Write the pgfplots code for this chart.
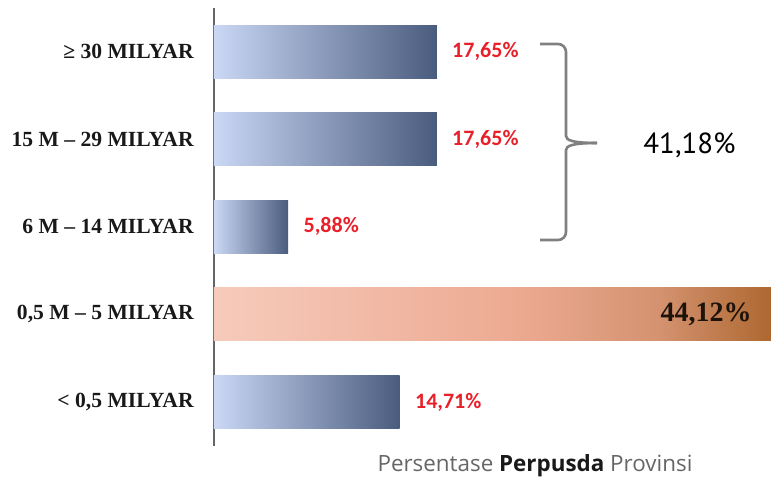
\documentclass[border=0pt]{standalone}
\usepackage{pgfplots}
\pgfplotsset{compat=1.18}
\usepackage{fontspec}
\setmainfont{Liberation Serif}
\newfontfamily\calibri{Carlito}
\newfontfamily\ptsans{PT Sans}
\newfontfamily\opensans{Open Sans}
\definecolor{blueL}{HTML}{CAD7F5}
\definecolor{blueD}{HTML}{4A5C7E}
\definecolor{or1}{HTML}{F6CBBB}
\definecolor{or2}{HTML}{EDAA92}
\definecolor{or3}{HTML}{D49270}
\definecolor{or4}{HTML}{AD6830}
\definecolor{valred}{HTML}{E8202A}
\definecolor{bracegray}{HTML}{808080}
\pgfdeclarehorizontalshading{orangebar}{100bp}{color(0bp)=(or1); color(25bp)=(or1);
  color(52bp)=(or2); color(65bp)=(or3); color(75bp)=(or4); color(100bp)=(or4)}

\pgfplotsset{bluebar/.style={draw=none, left color=blueL, right color=blueD,
  nodes near coords, point meta=explicit symbolic,
  nodes near coords style={anchor=west, inner sep=0pt, xshift=7.5pt,
    text=valred, font=\calibri\fontsize{11}{13}\selectfont\bfseries}}}

\begin{document}
\begin{tikzpicture}
\begin{axis}[
  at={(0,0)}, anchor=south west,
  scale only axis, width=278.5pt, height=219pt,
  xmin=0, xmax=44.12, ymin=-0.5, ymax=4.5,
  xbar, bar width=26.5pt, bar shift=0pt,
  axis x line=none, axis y line*=left,
  y axis line style={draw=black!60, line width=1.3pt, -},
  ytick={0,1,2,3,4},
  yticklabels={{< 0,5 MILYAR},{0,5 M – 5 MILYAR},{6 M – 14 MILYAR},
               {15 M – 29 MILYAR},{≥ 30 MILYAR}},
  major tick length=0pt,
  yticklabel style={anchor=east, inner sep=0pt, xshift=-10pt,
    font=\fontsize{10.8}{12}\selectfont\bfseries, text=black!90},
  clip=false]

% blue bars, one plot each so that every bar gets its own gradient
\addplot[bluebar] coordinates {(14.71,0) [14,71\%]};
\addplot[bluebar] coordinates {(5.88,2) [5,88\%]};
\addplot[bluebar] coordinates {(17.65,3) [17,65\%]};
\addplot[bluebar] coordinates {(17.65,4) [17,65\%]};

% orange bar
\addplot[draw=none, shading=orangebar] coordinates {(44.12,1)};

\node[anchor=east, inner sep=0pt, xshift=-9.5pt, text=black!85!brown,
  font=\fontsize{14}{16}\selectfont\bfseries] at (axis cs:44.12,1) {44,12\%};
\end{axis}

\begin{scope}[x=0.5pt, y=-0.5pt, shift={(-107pt,222.9pt)}]
  \draw[bracegray, line width=1.3pt, rounded corners=4pt]
    (540,44) -- (566,44) -- (566,128) .. controls (566,140) and (572,143) .. (597,143);
  \draw[bracegray, line width=1.3pt, rounded corners=4pt]
    (540,240) -- (566,240) -- (566,158) .. controls (566,146) and (572,143) .. (597,143);
  \node[anchor=west, inner sep=0pt, font=\ptsans\fontsize{14.5}{17}\selectfont]
    at (643,145) {41,18\%};
  \node[inner sep=0pt, font=\opensans\fontsize{11.2}{13}\selectfont, text=black!60]
    at (535,466) {Persentase \textbf{\color{black!90}Perpusda} Provinsi};
  \pgfresetboundingbox
  \path (0,0) rectangle (771,482);
\end{scope}
\end{tikzpicture}
\end{document}
